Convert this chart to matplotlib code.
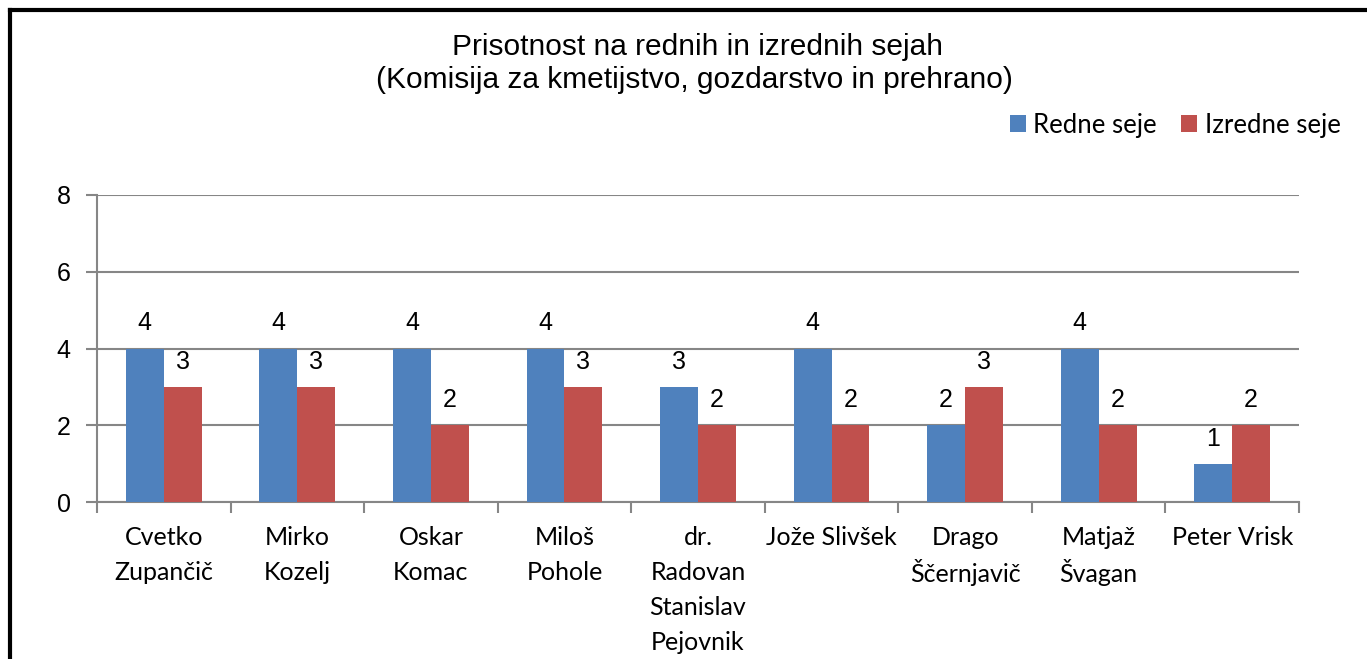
import numpy as np
import matplotlib.pyplot as plt
from matplotlib.lines import Line2D

# data
names = ["Cvetko\nZupančič", "Mirko\nKozelj", "Oskar\nKomac", "Miloš\nPohole",
         "dr.\nRadovan\nStanislav\nPejovnik", "Jože Slivšek", "Drago\nŠčernjavič",
         "Matjaž\nŠvagan", "Peter Vrisk"]
redne = [4, 4, 4, 4, 3, 4, 2, 4, 1]
izredne = [3, 3, 2, 3, 2, 2, 3, 2, 2]
series_names = ["Redne seje", "Izredne seje"]
yticks = [0, 2, 4, 6, 8]

blue = "#4F81BD"
red = "#C0504D"
grid_col = "#868686"

fig = plt.figure(figsize=(13.67, 6.59), dpi=100)
ax = fig.add_axes([97/1367, 1-502/659, (1299-97)/1367, (502-195)/659])

x = np.arange(len(names))
w = 0.284
b1 = ax.bar(x - w/2, redne, w, color=blue, label=series_names[0], zorder=3)
b2 = ax.bar(x + w/2, izredne, w, color=red, label=series_names[1], zorder=3)

# data labels above the bars
for bars in (b1, b2):
    for r in bars:
        ax.annotate(str(int(r.get_height())), (r.get_x() + r.get_width()/2, r.get_height()),
                    xytext=(0, 18), textcoords="offset points", ha="center", va="center",
                    fontsize=18, family="Liberation Sans", zorder=4)

ax.set_xlim(-0.5, len(names) - 0.5)
ax.set_ylim(0, 8)
ax.set_yticks(yticks)
ax.set_yticklabels([str(t) for t in yticks], fontsize=18, family="Liberation Sans")
ax.yaxis.grid(True, color=grid_col, linewidth=1.5, zorder=0)
ax.tick_params(axis="y", length=8, width=1.5, color=grid_col, pad=11)

# category labels drawn line by line so spacing stays even
ax.set_xticks([])
for i, name in enumerate(names):
    for j, line in enumerate(name.split("\n")):
        ax.annotate(line, (i, 0), xycoords=("data", "axes fraction"),
                    xytext=(0, -25.5 - j*25.2), textcoords="offset points",
                    ha="center", va="center", fontsize=18, family="Lato")
ax.set_xticks(np.arange(len(names) + 1) - 0.5, minor=True)
ax.tick_params(axis="x", which="minor", length=8, width=1.5, color=grid_col)

for s in ["top", "right"]:
    ax.spines[s].set_visible(False)
for s in ["left", "bottom"]:
    ax.spines[s].set_color(grid_col)
    ax.spines[s].set_linewidth(1.5)

# title, two lines
fig.text(698/1367, 1-47/659, "Prisotnost na rednih in izrednih sejah",
         ha="center", va="center", fontsize=21.5, family="Liberation Sans")
fig.text(694/1367, 1-80/659, "(Komisija za kmetijstvo, gozdarstvo in prehrano)",
         ha="center", va="center", fontsize=21.5, family="Liberation Sans")

# legend
leg = fig.legend(handles=[b1, b2], loc="center right", bbox_to_anchor=(1341/1367, 1-125/659),
                 ncol=2, frameon=False, prop={"family": "Lato", "size": 18.5},
                 handlelength=0.62, handleheight=0.62, handletextpad=0.3, columnspacing=0.95,
                 borderpad=0, borderaxespad=0)

# black frame around the chart (left and top visible)
fig.add_artist(Line2D([10/1367, 10/1367], [0, 1-10/659], color="black", linewidth=3, transform=fig.transFigure))
fig.add_artist(Line2D([10/1367, 1], [1-10/659, 1-10/659], color="black", linewidth=3, transform=fig.transFigure))

fig.savefig("out.png", dpi=100)
